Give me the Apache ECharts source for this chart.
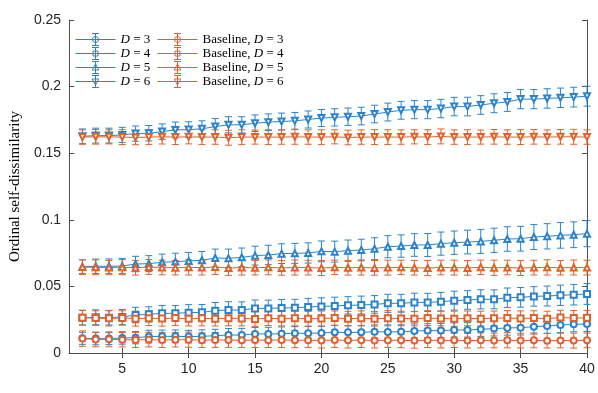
<!DOCTYPE html>
<html>
<head>
<meta charset="utf-8">
<script src="https://cdn.jsdelivr.net/npm/echarts@6/dist/echarts.min.js"></script>
<style>
  html, body { margin: 0; padding: 0; background: #fff; }
  #main { width: 598px; height: 393px; }
</style>
</head>
<body>
<div id="main"></div>
<script>
// window sizes D = 3..6
var windowSizes = [2, 3, 4, 5, 6, 7, 8, 9, 10, 11, 12, 13, 14, 15, 16, 17, 18, 19, 20, 21,
                   22, 23, 24, 25, 26, 27, 28, 29, 30, 31, 32, 33, 34, 35, 36, 37, 38, 39, 40];
var xTicks = [5, 10, 15, 20, 25, 30, 35, 40];
var yTicks = [0, 0.05, 0.1, 0.15, 0.2, 0.25];

// mean values
var d3 = [.0110, .0108, .0108, .0113, .0115, .0123, .0125, .0125, .0123, .0125, .0130, .0135, .0135, .0143, .0143, .0145, .0148, .0148, .0150, .0155,
          .0155, .0155, .0160, .0158, .0160, .0165, .0168, .0168, .0173, .0173, .0178, .0183, .0188, .0190, .0198, .0203, .0210, .0215, .0218];
var d4 = [.0265, .0268, .0265, .0270, .0285, .0290, .0298, .0298, .0303, .0305, .0318, .0323, .0323, .0335, .0335, .0338, .0340, .0345, .0350, .0353,
          .0358, .0360, .0365, .0373, .0373, .0380, .0380, .0385, .0393, .0398, .0403, .0403, .0415, .0418, .0425, .0428, .0433, .0438, .0443];
var d5 = [.0648, .0651, .0651, .0653, .0668, .0671, .0681, .0686, .0691, .0696, .0713, .0711, .0718, .0731, .0736, .0746, .0748, .0751, .0763, .0761,
          .0768, .0773, .0783, .0798, .0803, .0811, .0811, .0821, .0828, .0833, .0838, .0846, .0856, .0858, .0871, .0876, .0883, .0888, .0896];
var d6 = [.1627, .1632, .1632, .1637, .1647, .1650, .1662, .1675, .1677, .1683, .1700, .1713, .1713, .1725, .1733, .1738, .1743, .1753, .1764, .1769,
          .1774, .1779, .1794, .1809, .1822, .1827, .1827, .1835, .1850, .1850, .1862, .1875, .1885, .1906, .1906, .1911, .1916, .1921, .1928];
var b3 = [.0108, .0102, .0103, .0100, .0098, .0101, .0097, .0099, .0100, .0096, .0098, .0097, .0095, .0097, .0096, .0098, .0095, .0096, .0094, .0097,
          .0095, .0096, .0094, .0096, .0095, .0093, .0096, .0094, .0095, .0093, .0095, .0094, .0096, .0093, .0095, .0092, .0094, .0093, .0095];
var b4 = [.0265, .0262, .0260, .0263, .0258, .0261, .0259, .0262, .0257, .0260, .0258, .0261, .0259, .0256, .0260, .0258, .0261, .0257, .0259, .0262,
          .0258, .0260, .0257, .0261, .0259, .0258, .0262, .0259, .0257, .0260, .0258, .0261, .0263, .0259, .0262, .0258, .0266, .0262, .0264];
var b5 = [.0645, .0643, .0641, .0644, .0640, .0646, .0642, .0640, .0643, .0641, .0645, .0638, .0642, .0640, .0643, .0639, .0642, .0641, .0638, .0643,
          .0640, .0642, .0639, .0641, .0643, .0640, .0638, .0642, .0641, .0639, .0643, .0640, .0642, .0638, .0641, .0643, .0640, .0642, .0641];
var b6 = [.1621, .1623, .1623, .1621, .1618, .1621, .1623, .1621, .1623, .1621, .1621, .1616, .1621, .1621, .1621, .1621, .1623, .1621, .1621, .1623,
          .1618, .1621, .1621, .1621, .1621, .1623, .1621, .1626, .1621, .1621, .1621, .1623, .1621, .1621, .1623, .1621, .1623, .1623, .1621];

// error bar half widths
var d3Err = [.0045, .0046, .0045, .0047, .0046, .0048, .0047, .0048, .0047, .0049, .0048, .0049, .0050, .0049, .0050, .0051, .0050, .0051, .0050, .0052,
             .0051, .0052, .0051, .0053, .0052, .0053, .0052, .0054, .0053, .0054, .0053, .0055, .0054, .0055, .0056, .0055, .0057, .0056, .0057];
var d4Err = [.0055, .0056, .0055, .0057, .0058, .0057, .0059, .0058, .0060, .0059, .0061, .0062, .0061, .0063, .0062, .0064, .0063, .0065, .0064, .0066,
             .0065, .0067, .0066, .0068, .0067, .0069, .0068, .0070, .0071, .0070, .0072, .0071, .0073, .0074, .0073, .0075, .0076, .0077, .0078];
var d5Err = [.0052, .0054, .0055, .0057, .0058, .0060, .0061, .0063, .0064, .0066, .0067, .0069, .0070, .0071, .0073, .0074, .0075, .0076, .0078, .0079,
             .0080, .0081, .0082, .0083, .0084, .0085, .0086, .0087, .0088, .0089, .0090, .0091, .0092, .0093, .0094, .0095, .0096, .0097, .0098];
var d6Err = [.0055, .0056, .0056, .0057, .0057, .0058, .0058, .0059, .0059, .0060, .0060, .0061, .0061, .0062, .0062, .0063, .0063, .0064, .0064, .0065,
             .0065, .0066, .0066, .0067, .0067, .0068, .0068, .0069, .0069, .0070, .0070, .0071, .0071, .0072, .0072, .0073, .0073, .0074, .0075];
var b3Err = [.0058, .0055, .0056, .0054, .0057, .0055, .0056, .0054, .0057, .0055, .0056, .0055, .0054, .0056, .0055, .0057, .0055, .0054, .0056, .0055,
             .0057, .0055, .0056, .0054, .0055, .0057, .0055, .0056, .0054, .0055, .0056, .0055, .0057, .0055, .0056, .0054, .0055, .0056, .0055];
var b4Err = [.0056, .0055, .0057, .0054, .0056, .0055, .0057, .0055, .0054, .0056, .0055, .0057, .0055, .0056, .0054, .0055, .0057, .0055, .0056, .0054,
             .0055, .0056, .0055, .0057, .0055, .0054, .0056, .0055, .0057, .0055, .0056, .0054, .0055, .0057, .0055, .0056, .0055, .0057, .0056];
var b5Err = [.0055, .0056, .0054, .0057, .0055, .0056, .0055, .0054, .0057, .0055, .0056, .0055, .0057, .0054, .0056, .0055, .0057, .0055, .0056, .0054,
             .0055, .0057, .0055, .0056, .0054, .0055, .0057, .0055, .0056, .0055, .0054, .0057, .0055, .0056, .0055, .0057, .0054, .0056, .0055];
var b6Err = [.0054, .0055, .0053, .0056, .0054, .0055, .0054, .0056, .0053, .0055, .0054, .0056, .0055, .0053, .0055, .0054, .0056, .0054, .0055, .0053,
             .0055, .0054, .0056, .0055, .0054, .0053, .0055, .0056, .0054, .0055, .0053, .0055, .0054, .0056, .0055, .0054, .0055, .0056, .0054];

var legendNames = ['D = 3', 'D = 4', 'D = 5', 'D = 6',
                   'Baseline, D = 3', 'Baseline, D = 4', 'Baseline, D = 5', 'Baseline, D = 6'];

var BLUE = '#2a84cd', ORANGE = '#e0612c';

// 图例图标：横线 + 误差棒 + 空心标记
var barPath = 'M0,6 L40,6 M20,0 L20,12 M16.5,0 L23.5,0 M16.5,12 L23.5,12 ';
var markPaths = {
    circle: 'M23,6 A3,3 0 1 1 17,6 A3,3 0 1 1 23,6 Z',
    rect: 'M17.5,3.5 L22.5,3.5 L22.5,8.5 L17.5,8.5 Z',
    up: 'M20,2.5 L23.3,8.5 L16.7,8.5 Z',
    down: 'M20,9.5 L23.3,3.5 L16.7,3.5 Z'
};

var groups = [
    { name: legendNames[0], mean: d3, err: d3Err, color: BLUE, symbol: 'emptyCircle', rot: 0, icon: 'circle' },
    { name: legendNames[1], mean: d4, err: d4Err, color: BLUE, symbol: 'emptyRect', rot: 0, icon: 'rect' },
    { name: legendNames[2], mean: d5, err: d5Err, color: BLUE, symbol: 'emptyTriangle', rot: 0, icon: 'up' },
    { name: legendNames[3], mean: d6, err: d6Err, color: BLUE, symbol: 'emptyTriangle', rot: 180, icon: 'down' },
    { name: legendNames[4], mean: b3, err: b3Err, color: ORANGE, symbol: 'emptyCircle', rot: 0, icon: 'circle' },
    { name: legendNames[5], mean: b4, err: b4Err, color: ORANGE, symbol: 'emptyRect', rot: 0, icon: 'rect' },
    { name: legendNames[6], mean: b5, err: b5Err, color: ORANGE, symbol: 'emptyTriangle', rot: 0, icon: 'up' },
    { name: legendNames[7], mean: b6, err: b6Err, color: ORANGE, symbol: 'emptyTriangle', rot: 180, icon: 'down' }
];

// 误差棒绘制
function renderErr(params, api) {
    var x = api.value(0);
    var lo = api.coord([x, api.value(1)]);
    var hi = api.coord([x, api.value(2)]);
    var w = 3.5;
    var style = { stroke: api.visual('color'), lineWidth: 1, fill: null };
    return {
        type: 'group',
        children: [
            { type: 'line', shape: { x1: lo[0], y1: lo[1], x2: hi[0], y2: hi[1] }, style: style },
            { type: 'line', shape: { x1: lo[0] - w, y1: lo[1], x2: lo[0] + w, y2: lo[1] }, style: style },
            { type: 'line', shape: { x1: hi[0] - w, y1: hi[1], x2: hi[0] + w, y2: hi[1] }, style: style }
        ]
    };
}

var series = [];
groups.forEach(function (g) {
    series.push({
        name: g.name,
        type: 'custom',
        renderItem: renderErr,
        itemStyle: { color: g.color },
        data: windowSizes.map(function (x, i) {
            return [x, g.mean[i] - g.err[i], g.mean[i] + g.err[i]];
        }),
        z: 2
    });
    series.push({
        name: g.name,
        type: 'line',
        symbol: g.symbol,
        symbolSize: 6,
        symbolRotate: g.rot,
        showAllSymbol: true,
        itemStyle: { color: g.color, borderWidth: 1 },
        lineStyle: { color: g.color, width: 1 },
        data: windowSizes.map(function (x, i) { return [x, g.mean[i]]; }),
        z: 3
    });
});

function legendData(list) {
    return list.map(function (g) {
        return {
            name: g.name,
            icon: 'path://' + barPath + markPaths[g.icon],
            itemStyle: { color: 'none', borderColor: g.color, borderWidth: 1 }
        };
    });
}

var legendText = {
    fontFamily: 'Liberation Serif',
    fontSize: 13,
    color: '#000',
    lineHeight: 14,
    rich: {
        i: { fontFamily: 'Liberation Serif', fontStyle: 'italic', fontSize: 13, lineHeight: 14 },
        n: { fontFamily: 'Liberation Serif', fontSize: 13, lineHeight: 14 }
    }
};
function legendFmt(name) {
    var k = name.indexOf('D');
    return '{n|' + name.slice(0, k) + '}{i|D}{n|' + name.slice(k + 1) + '}';
}

var axisColor = '#4d4d4d';
var option = {
    animation: false,
    backgroundColor: '#fff',
    grid: { left: 58, right: 11, top: 20, bottom: 40 },
    legend: [
        {
            left: 73, top: 31, orient: 'vertical', padding: 0,
            itemWidth: 40, itemHeight: 12, itemGap: -3,
            data: legendData(groups.slice(0, 4)),
            formatter: legendFmt, textStyle: legendText,
            selectedMode: false
        },
        {
            left: 155, top: 31, orient: 'vertical', padding: 0,
            itemWidth: 40, itemHeight: 12, itemGap: -3,
            data: legendData(groups.slice(4)),
            formatter: legendFmt, textStyle: legendText,
            selectedMode: false
        }
    ],
    xAxis: [
        {
            type: 'value', min: 1, max: 40,
            axisLine: { lineStyle: { color: axisColor, width: 1 } },
            axisTick: { inside: true, length: 5, customValues: xTicks, lineStyle: { color: axisColor } },
            axisLabel: { customValues: xTicks, color: '#262626', fontFamily: 'Liberation Sans', fontSize: 14, margin: 9 },
            splitLine: { show: false }
        },
        {
            type: 'value', min: 1, max: 40, position: 'top',
            axisLine: { lineStyle: { color: axisColor, width: 1 } },
            axisTick: { inside: true, length: 5, customValues: xTicks, lineStyle: { color: axisColor } },
            axisLabel: { show: false },
            splitLine: { show: false }
        }
    ],
    yAxis: [
        {
            type: 'value', min: 0, max: 0.25, interval: 0.05,
            name: 'Ordinal self-dissimilarity',
            nameLocation: 'middle', nameGap: 46,
            nameTextStyle: { fontFamily: 'Liberation Serif', fontSize: 15, color: '#000' },
            axisLine: { show: true, lineStyle: { color: axisColor, width: 1 } },
            axisTick: { show: true, inside: true, length: 5, lineStyle: { color: axisColor } },
            axisLabel: { color: '#262626', fontFamily: 'Liberation Sans', fontSize: 14, margin: 8 },
            splitLine: { show: false }
        },
        {
            type: 'value', min: 0, max: 0.25, interval: 0.05, position: 'right',
            axisLine: { show: true, lineStyle: { color: axisColor, width: 1 } },
            axisTick: { show: true, inside: true, length: 5, lineStyle: { color: axisColor } },
            axisLabel: { show: false },
            splitLine: { show: false }
        }
    ],
    series: series
};

var chart = echarts.init(document.getElementById('main'), null, { renderer: 'canvas' });
chart.setOption(option);
</script>
</body>
</html>
